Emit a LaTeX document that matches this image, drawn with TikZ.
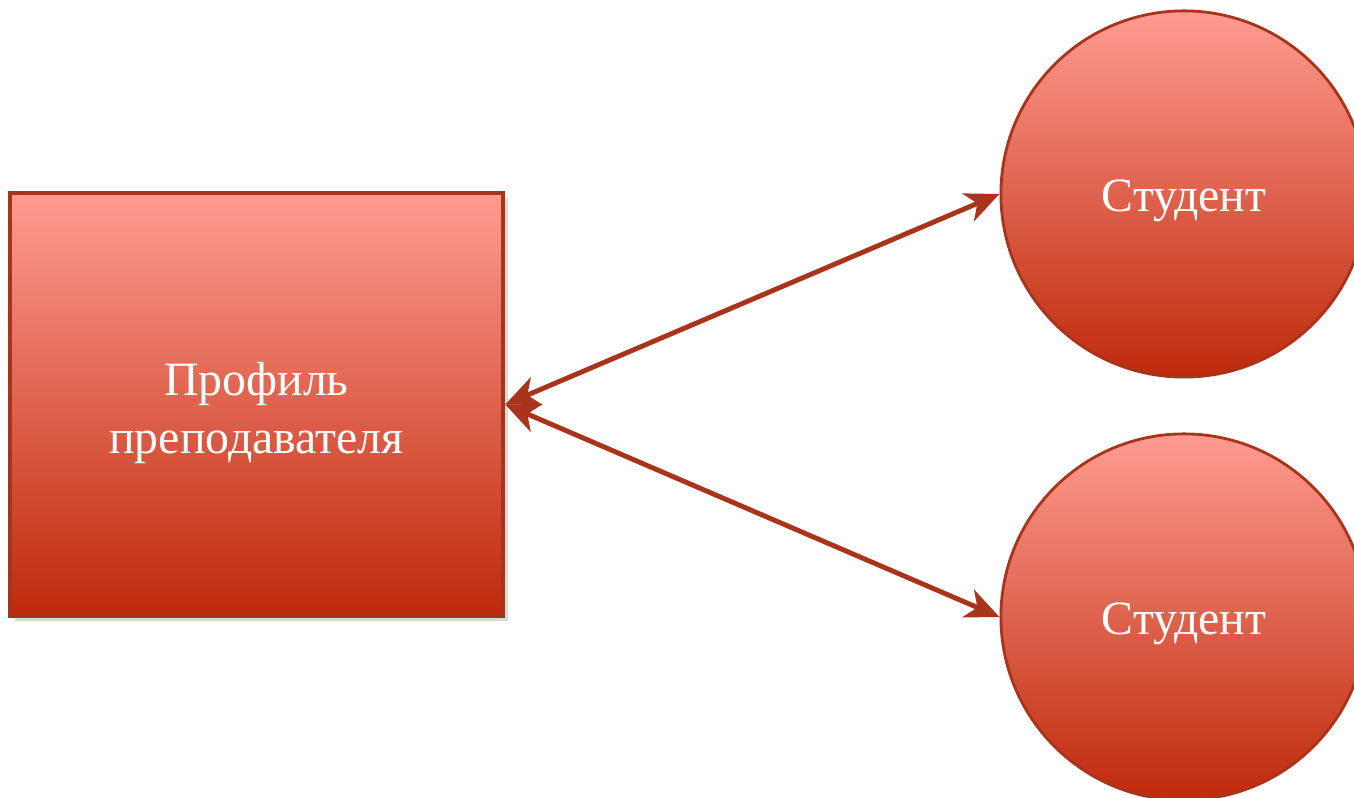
\documentclass[tikz,border=0pt]{standalone}
\usepackage{fontspec}
\setmainfont{Liberation Serif}
\usepackage{tikz}
\usetikzlibrary{arrows.meta,shadows}

\definecolor{boxtop}{HTML}{FF9B91}
\definecolor{boxbottom}{HTML}{BE2A0A}
\definecolor{boxline}{HTML}{A8341C}

\begin{document}
\begin{tikzpicture}[x=0.01cm, y=-0.01cm,
		box_style/.style={rectangle,draw=boxline,line width=1.2pt,top color=boxtop,bottom color=boxbottom,
			minimum width=4.93cm,minimum height=4.23cm,inner sep=0pt,align=center,text=white,
			font=\fontsize{13.6}{16.6}\selectfont,text height=31pt,
			drop shadow={opacity=0.3,shadow xshift=0.05cm,shadow yshift=-0.05cm}},
		node_style/.style={circle,draw=boxline,line width=0.8pt,top color=boxtop,bottom color=boxbottom,
			minimum size=3.66cm,inner sep=0pt,text=white,font=\fontsize{13.6}{16.6}\selectfont,
			text height=13pt,text depth=3pt},
		edge_style/.style={color=boxline,line width=1.4pt,
			{Stealth[length=0.34cm,width=0.3cm,inset=0.1cm]}-{Stealth[length=0.34cm,width=0.3cm,inset=0.1cm]}}]

	\useasboundingbox (0,0) rectangle (1354,798);

	\node[box_style] (prof) at (256.5,404.5) {Профиль\\преподавателя};
	\node[node_style] (stud1) at (1184,194) {Студент};
	\node[node_style] (stud2) at (1184,617) {Студент};

	\draw[edge_style] (prof.east) -- (stud1.west);
	\draw[edge_style] (prof.east) -- (stud2.west);
\end{tikzpicture}
\end{document}
